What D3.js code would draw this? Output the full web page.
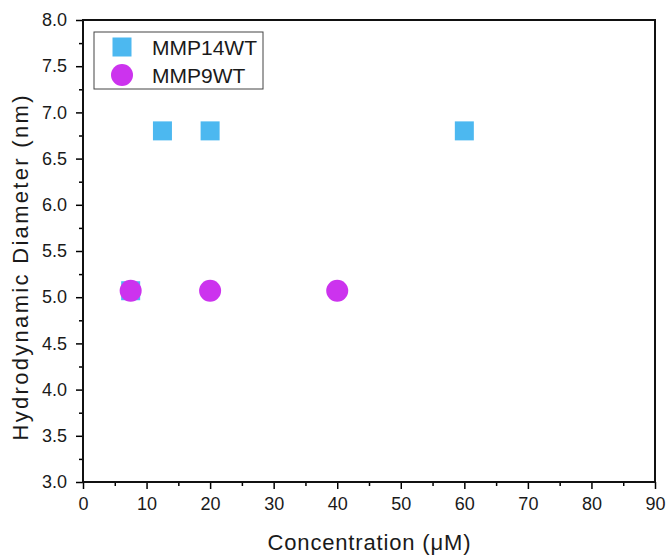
<!DOCTYPE html>
<html>
<head>
<meta charset="utf-8">
<script src="https://cdn.jsdelivr.net/npm/d3@7"></script>
<style>
  body { margin: 0; background: #fff; }
  text { font-family: "Liberation Sans", Arial, sans-serif; fill: #1a1a1a; }
</style>
</head>
<body>
<div id="chart"></div>
<script>
// data
var mmp14Conc = [7.5, 12.5, 20, 60];
var mmp14Diam = [5.07, 6.8, 6.8, 6.8];
var mmp9Conc = [7.5, 20, 40];
var mmp9Diam = [5.07, 5.07, 5.07];
var xTicks = [0, 10, 20, 30, 40, 50, 60, 70, 80, 90];
var yTicks = [3.0, 3.5, 4.0, 4.5, 5.0, 5.5, 6.0, 6.5, 7.0, 7.5, 8.0];
var seriesNames = ["MMP14WT", "MMP9WT"];
var seriesColors = ["#4cb8f0", "#cc33ee"];

var W = 667, H = 556;
var margin = {top: 20, right: 12, bottom: 74, left: 83};
var width = W - margin.left - margin.right;
var height = H - margin.top - margin.bottom;

var svg = d3.select("#chart").append("svg")
    .attr("width", W)
    .attr("height", H);

var g = svg.append("g")
    .attr("transform", "translate(" + margin.left + "," + margin.top + ")");

var x = d3.scaleLinear().domain([0, 90]).range([0, width]);
var y = d3.scaleLinear().domain([3, 8]).range([height, 0]);

// minor ticks
g.append("g")
    .attr("transform", "translate(0," + height + ")")
    .call(d3.axisBottom(x).tickValues(d3.range(5, 90, 10)).tickSize(4).tickFormat(""))
    .call(function(s) { s.select(".domain").remove(); s.selectAll("line").attr("stroke-width", 1.5); });
g.append("g")
    .call(d3.axisLeft(y).tickValues(d3.range(3.25, 8, 0.5)).tickSize(4).tickFormat(""))
    .call(function(s) { s.select(".domain").remove(); s.selectAll("line").attr("stroke-width", 1.5); });

// major axes
var xAxis = g.append("g")
    .attr("transform", "translate(0," + height + ")")
    .call(d3.axisBottom(x).tickValues(xTicks).tickSize(7).tickPadding(8).tickFormat(d3.format("d")));
var yAxis = g.append("g")
    .call(d3.axisLeft(y).tickValues(yTicks).tickSize(7).tickPadding(9).tickFormat(d3.format(".1f")));

[xAxis, yAxis].forEach(function(a) {
    a.selectAll(".domain").remove();
    a.selectAll("line").attr("stroke-width", 1.5);
    a.selectAll("text").style("font-size", "18px").style("fill", "#1a1a1a");
});

// frame
g.append("rect")
    .attr("width", width)
    .attr("height", height)
    .attr("fill", "none")
    .attr("stroke", "#111")
    .attr("stroke-width", 2);

// points
var sq = 19;
g.selectAll(".sq").data(mmp14Conc).enter().append("rect")
    .attr("class", "sq")
    .attr("x", function(d) { return x(d) - sq / 2; })
    .attr("y", function(d, i) { return y(mmp14Diam[i]) - sq / 2; })
    .attr("width", sq)
    .attr("height", sq)
    .attr("fill", seriesColors[0]);

g.selectAll(".dot").data(mmp9Conc).enter().append("circle")
    .attr("class", "dot")
    .attr("cx", function(d) { return x(d); })
    .attr("cy", function(d, i) { return y(mmp9Diam[i]); })
    .attr("r", 11)
    .attr("fill", seriesColors[1]);

// axis titles
svg.append("text")
    .attr("x", margin.left + width / 2)
    .attr("y", 550)
    .attr("text-anchor", "middle")
    .attr("textLength", 203)
    .attr("lengthAdjust", "spacing")
    .style("font-size", "22px")
    .text("Concentration (\u03bcM)");

svg.append("text")
    .attr("transform", "translate(28,268) rotate(-90)")
    .attr("text-anchor", "middle")
    .attr("textLength", 345)
    .attr("lengthAdjust", "spacing")
    .style("font-size", "22px")
    .text("Hydrodynamic Diameter (nm)");

// legend
var legend = svg.append("g").attr("transform", "translate(94,32)");
legend.append("rect")
    .attr("width", 169)
    .attr("height", 57)
    .attr("fill", "#fff")
    .attr("stroke", "#444")
    .attr("stroke-width", 1);

var items = legend.selectAll(".item").data(seriesNames).enter().append("g")
    .attr("transform", function(d, i) { return "translate(0," + (15 + i * 28) + ")"; });
items.each(function(d, i) {
    var it = d3.select(this);
    if (i === 0) {
        it.append("rect").attr("x", 28 - sq / 2).attr("y", -sq / 2)
            .attr("width", sq).attr("height", sq).attr("fill", seriesColors[0]);
    } else {
        it.append("circle").attr("cx", 28).attr("cy", 0).attr("r", 11).attr("fill", seriesColors[1]);
    }
});
items.append("text")
    .attr("x", 58)
    .attr("y", 8)
    .style("font-size", "21px")
    .text(function(d) { return d; });
</script>
</body>
</html>
